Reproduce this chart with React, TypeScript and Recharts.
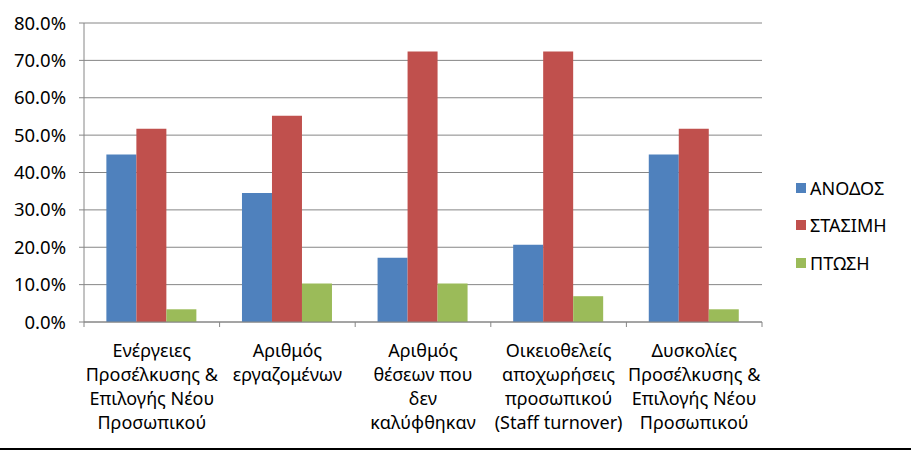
import { Bar, BarChart, CartesianGrid, Legend, XAxis, YAxis } from "recharts"

const categories = [
  "Ενέργειες\nΠροσέλκυσης &\nΕπιλογής Νέου\nΠροσωπικού",
  "Αριθμός\nεργαζομένων",
  "Αριθμός\nθέσεων που\nδεν\nκαλύφθηκαν",
  "Οικειοθελείς\nαποχωρήσεις\nπροσωπικού\n(Staff turnover)",
  "Δυσκολίες\nΠροσέλκυσης &\nΕπιλογής Νέου\nΠροσωπικού",
]

const seriesNames = ["ΑΝΟΔΟΣ", "ΣΤΑΣΙΜΗ", "ΠΤΩΣΗ"]
const anodos = [44.8, 34.5, 17.2, 20.7, 44.8]
const stasimi = [51.7, 55.2, 72.4, 72.4, 51.7]
const ptosi = [3.4, 10.3, 10.3, 6.9, 3.4]

const yTicks = [0, 10, 20, 30, 40, 50, 60, 70, 80]

const dataChart = categories.map((name, i) => ({
  name,
  anodos: anodos[i],
  stasimi: stasimi[i],
  ptosi: ptosi[i],
}))

const FONT = "'Noto Sans', 'DejaVu Sans', sans-serif"
const GRID = "#868686"

function CategoryTick(props: any) {
  const { x, y, payload, width, visibleTicksCount, index } = props
  const band = width / visibleTicksCount
  const lines = String(payload.value).split("\n")
  return (
    <g>
      <line x1={x - band / 2} x2={x - band / 2} y1={y} y2={y + 5} stroke={GRID} />
      {index === visibleTicksCount - 1 && (
        <line x1={x + band / 2} x2={x + band / 2} y1={y} y2={y + 5} stroke={GRID} />
      )}
      <text x={x} y={y} textAnchor='middle' fontSize={18} fill='#000' fontFamily={FONT}>
        {lines.map((l, i) => (
          <tspan key={i} x={x} y={y + 35 + i * 24}>
            {l}
          </tspan>
        ))}
      </text>
    </g>
  )
}

function renderLegend(props: any) {
  const payload = [...(props.payload || [])].sort(
    (a: any, b: any) => seriesNames.indexOf(a.value) - seriesNames.indexOf(b.value)
  )
  return (
    <div style={{ fontFamily: FONT, fontSize: 18, color: "#000" }}>
      {payload.map((entry: any) => (
        <div
          key={entry.value}
          style={{ height: 37.5, display: "flex", alignItems: "center" }}
        >
          <span
            style={{
              width: 10,
              height: 10,
              background: entry.color,
              display: "inline-block",
              marginRight: 4,
            }}
          />
          <span>{entry.value}</span>
        </div>
      ))}
    </div>
  )
}

export default function App() {
  return (
    <div
      style={{
        position: "absolute",
        left: 0,
        top: 0,
        width: 911,
        height: 451,
        background: "#fff",
      }}
    >
      <BarChart
        width={911}
        height={445}
        data={dataChart}
        margin={{ top: 23, right: 29, left: 0, bottom: 5 }}
        barCategoryGap='16.5%'
        barGap={0}
      >
        <CartesianGrid vertical={false} stroke={GRID} strokeDasharray='' />
        <XAxis
          dataKey='name'
          height={118}
          interval={0}
          tickLine={false}
          tickSize={0}
          tickMargin={0}
          axisLine={{ stroke: GRID }}
          tick={<CategoryTick />}
        />
        <YAxis
          width={84}
          domain={[0, 80]}
          ticks={yTicks}
          interval={0}
          tickSize={5}
          tickMargin={13}
          axisLine={{ stroke: GRID }}
          tickLine={{ stroke: GRID }}
          tick={{ fill: "#000", fontSize: 18.5, fontFamily: FONT }}
          tickFormatter={(v) => `${v.toFixed(1)}%`}
        />
        <Legend
          layout='vertical'
          align='right'
          verticalAlign='middle'
          content={renderLegend}
          wrapperStyle={{ width: 120, left: 796, right: "auto", top: 169 }}
        />
        <Bar dataKey='anodos' name={seriesNames[0]} fill='#4F81BD' isAnimationActive={false} />
        <Bar dataKey='stasimi' name={seriesNames[1]} fill='#C0504D' isAnimationActive={false} />
        <Bar dataKey='ptosi' name={seriesNames[2]} fill='#9BBB59' isAnimationActive={false} />
      </BarChart>
      <div
        style={{
          position: "absolute",
          left: 0,
          top: 448,
          width: 911,
          height: 2,
          background: "#000",
        }}
      />
    </div>
  )
}
